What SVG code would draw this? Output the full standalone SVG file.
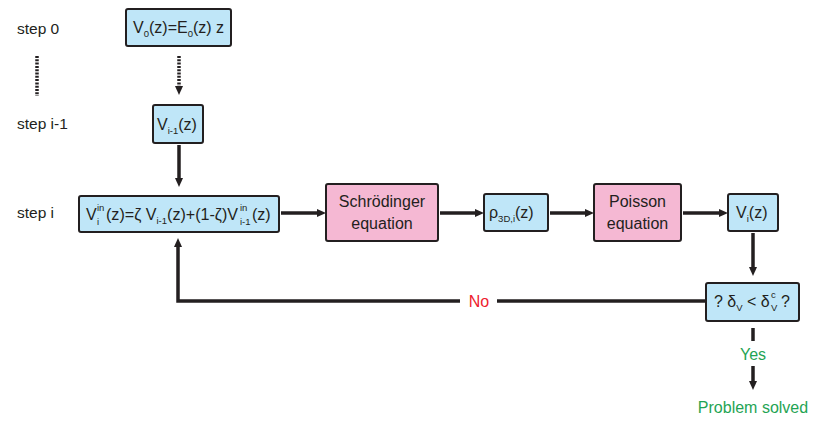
<svg xmlns="http://www.w3.org/2000/svg" width="821" height="425" viewBox="0 0 821 425">
<style>
text{font-family:"Liberation Sans","Open Sans",sans-serif;fill:#231f20;font-size:16px}
.lbl{font-size:15.5px}
.sub{font-size:9.5px}
.blue{fill:#bfe6f8;stroke:#231f20;stroke-width:2}
.pink{fill:#f5b8d3;stroke:#231f20;stroke-width:2}
.c{text-anchor:middle}
.ln{stroke:#231f20;stroke-width:3.5;fill:none}
.red{fill:#ee1c2e}
.grn{fill:#1fa454}
</style>
<defs>
<marker id="ah" markerUnits="userSpaceOnUse" markerWidth="12" markerHeight="12" viewBox="0 -6 10 12" refX="2" refY="0" orient="auto">
<path d="M0,-4 L9,0 L0,4 z" fill="#231f20"/>
</marker>
</defs>
<g id="labels">
<text class="lbl" x="17" y="34">step 0</text>
<text class="lbl" x="17" y="129">step i-1</text>
<text class="lbl" x="17" y="218">step i</text>
</g>
<g id="connectors">
<line class="ln" x1="37" y1="56" x2="37" y2="96" stroke-dasharray="2 1.3" stroke-width="4"/>
<line class="ln" x1="179" y1="56" x2="179" y2="88" stroke-dasharray="2 1.3" stroke-width="4" marker-end="url(#ah)"/>
<line class="ln" x1="179" y1="145" x2="179" y2="180" marker-end="url(#ah)"/>
<line class="ln" x1="281" y1="213" x2="319" y2="213" marker-end="url(#ah)"/>
<line class="ln" x1="440" y1="213" x2="477" y2="213" marker-end="url(#ah)"/>
<line class="ln" x1="550" y1="213" x2="587" y2="213" marker-end="url(#ah)"/>
<line class="ln" x1="683" y1="213" x2="721" y2="213" marker-end="url(#ah)"/>
<line class="ln" x1="753" y1="233" x2="753" y2="269" marker-end="url(#ah)"/>
<polyline class="ln" points="460,301 178,301 178,245" marker-end="url(#ah)"/>
<line class="ln" x1="497" y1="301" x2="706" y2="301"/>
<line class="ln" x1="753" y1="328" x2="753" y2="341"/>
<line class="ln" x1="753" y1="366" x2="753" y2="383" marker-end="url(#ah)"/>
<text class="c red" x="479" y="307">No</text>
<text class="c grn" x="753" y="360">Yes</text>
<text class="c grn" x="753" y="413">Problem solved</text>
</g>
<g id="v0">
<rect class="blue" x="126" y="9" width="105" height="37" rx="2"/>
<text x="133" y="33">V<tspan class="sub" dy="4">0</tspan><tspan dy="-4">(z)=E</tspan><tspan class="sub" dy="4">0</tspan><tspan dy="-4">(z) z</tspan></text>
</g>
<g id="vim1">
<rect class="blue" x="153" y="105" width="50" height="38" rx="2"/>
<text x="157" y="130">V<tspan class="sub" dy="4">i-1</tspan><tspan dy="-4">(z)</tspan></text>
</g>
<g id="vin">
<rect class="blue" x="79" y="196" width="200" height="36" rx="2"/>
<text x="86" y="220">V</text>
<text class="sub" x="97" y="211">in</text>
<text class="sub" x="97" y="225">i</text>
<text x="106" y="220" textLength="132" lengthAdjust="spacingAndGlyphs">(z)=ζ V<tspan class="sub" dy="4">i-1</tspan><tspan dy="-4">(z)+(1-ζ)V</tspan></text>
<text class="sub" x="240" y="211">in</text>
<text class="sub" x="240" y="225">i-1</text>
<text x="252" y="220">(z)</text>
</g>
<g id="schrodinger">
<rect class="pink" x="326" y="184" width="112" height="57" rx="2"/>
<text class="c" x="382" y="207">Schrödinger</text>
<text class="c" x="382" y="229">equation</text>
</g>
<g id="rho">
<rect class="blue" x="484" y="194" width="64" height="37" rx="2"/>
<text x="489" y="218">ρ<tspan class="sub" dy="4">3D,i</tspan><tspan dy="-4">(z)</tspan></text>
</g>
<g id="poisson">
<rect class="pink" x="594" y="184" width="87" height="57" rx="2"/>
<text class="c" x="637.5" y="207">Poisson</text>
<text class="c" x="637.5" y="229">equation</text>
</g>
<g id="vi">
<rect class="blue" x="728" y="194" width="50" height="37" rx="2"/>
<text x="736" y="218">V<tspan class="sub" dy="4">i</tspan><tspan dy="-4">(z)</tspan></text>
</g>
<g id="check">
<rect class="blue" x="706" y="283" width="93" height="38" rx="2"/>
<text x="714" y="307">? δ<tspan class="sub" dy="4">V</tspan><tspan dy="-4"> &lt; δ</tspan></text>
<text class="sub" x="771" y="298">c</text>
<text class="sub" x="771" y="311">V</text>
<text x="781" y="307">?</text>
</g>
</svg>
